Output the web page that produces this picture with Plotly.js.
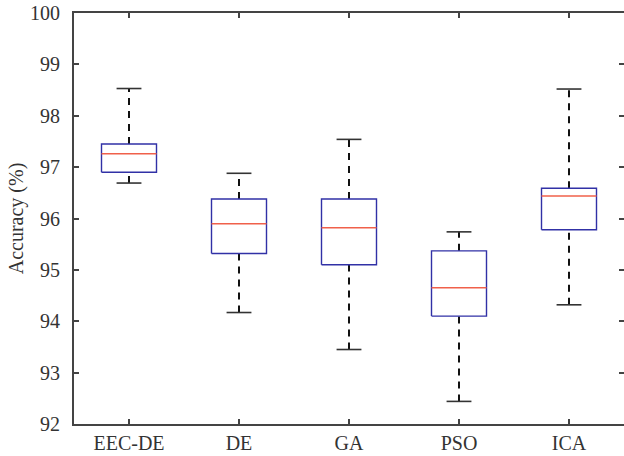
<!DOCTYPE html>
<html>
<head>
<meta charset="utf-8">
<script src="https://cdn.plot.ly/plotly-3.0.1.min.js"></script>
<style>html,body{margin:0;padding:0;background:#fff;}</style>
</head>
<body>
<div id="chart" style="width:624px;height:456px;"></div>
<script>
const categories = ['EEC-DE', 'DE', 'GA', 'PSO', 'ICA'];
const upperWhisker = [98.53, 96.88, 97.54, 95.74, 98.52];
const q3 = [97.45, 96.38, 96.38, 95.37, 96.59];
const median = [97.26, 95.90, 95.82, 94.65, 96.44];
const q1 = [96.90, 95.32, 95.10, 94.10, 95.78];
const lowerWhisker = [96.69, 94.17, 93.45, 92.44, 94.32];
const yTicks = [92, 93, 94, 95, 96, 97, 98, 99, 100];

const boxHalf = 0.25, capHalf = 0.113;
const pos = categories.map((c, i) => i + 1);

const wx = [], wy = [], cx = [], cy = [], bx = [], by = [], mx = [], my = [];
pos.forEach((p, i) => {
  wx.push(p, p, null, p, p, null);
  wy.push(q3[i], upperWhisker[i], null, lowerWhisker[i], q1[i], null);
  cx.push(p - capHalf, p + capHalf, null, p - capHalf, p + capHalf, null);
  cy.push(upperWhisker[i], upperWhisker[i], null, lowerWhisker[i], lowerWhisker[i], null);
  bx.push(p - boxHalf, p + boxHalf, p + boxHalf, p - boxHalf, p - boxHalf, null);
  by.push(q1[i], q1[i], q3[i], q3[i], q1[i], null);
  mx.push(p - boxHalf, p + boxHalf, null);
  my.push(median[i], median[i], null);
});

const traces = [
  {x: wx, y: wy, mode: 'lines', line: {color: '#111', width: 2, dash: '7px,6px'}, hoverinfo: 'skip', showlegend: false},
  {x: cx, y: cy, mode: 'lines', line: {color: '#333', width: 1.6}, hoverinfo: 'skip', showlegend: false},
  {x: bx, y: by, mode: 'lines', line: {color: '#3131a6', width: 1.4}, hoverinfo: 'skip', showlegend: false},
  {x: mx, y: my, mode: 'lines', line: {color: '#f0604a', width: 1.5}, hoverinfo: 'skip', showlegend: false},
  {x: [1], y: [95], yaxis: 'y2', mode: 'markers', marker: {opacity: 0}, hoverinfo: 'skip', showlegend: false}
];

const font = {family: '"Liberation Serif", "Times New Roman", serif', size: 20, color: '#333'};
const axColor = '#444';

const layout = {
  width: 624, height: 456,
  margin: {l: 74, r: 0, t: 13, b: 32},
  paper_bgcolor: '#fff', plot_bgcolor: '#fff',
  font: font,
  showlegend: false,
  xaxis: {
    range: [0.5, 5.5], tickvals: pos, ticktext: categories,
    ticks: 'inside', ticklen: 5, tickwidth: 2, tickcolor: axColor,
    showline: true, linecolor: axColor, linewidth: 2, mirror: 'ticks',
    showgrid: false, zeroline: false, fixedrange: true,
    tickfont: font, ticklabelstandoff: 0
  },
  yaxis: {
    range: [92, 100], tickvals: yTicks,
    ticks: 'inside', ticklen: 5, tickwidth: 2, tickcolor: axColor,
    showline: true, linecolor: axColor, linewidth: 2,
    showgrid: false, zeroline: false, fixedrange: true,
    tickfont: font, ticklabelstandoff: 8,
    title: {text: 'Accuracy (%)', font: font, standoff: 1}
  },
  yaxis2: {
    overlaying: 'y', side: 'right', range: [92, 100], tickvals: yTicks,
    ticks: 'inside', ticklen: 5, tickwidth: 2, tickcolor: axColor,
    showline: false, showticklabels: false, showgrid: false, zeroline: false, fixedrange: true
  }
};

Plotly.newPlot('chart', traces, layout, {staticPlot: true, displayModeBar: false});
</script>
</body>
</html>
